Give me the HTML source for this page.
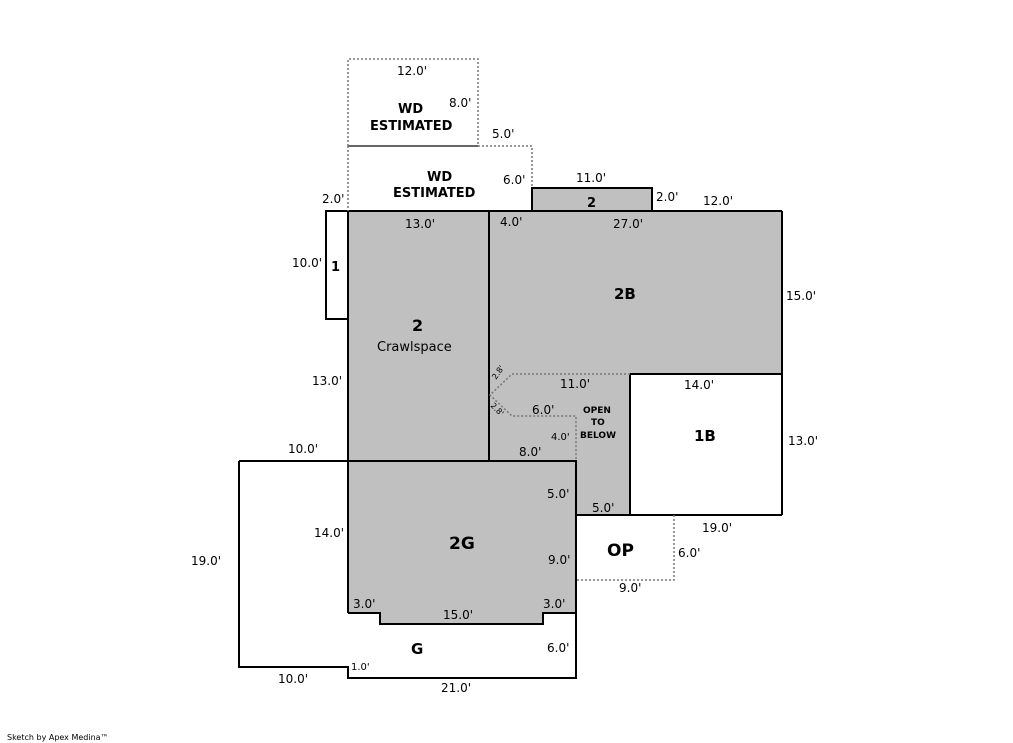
<!DOCTYPE html>
<html><head><meta charset="utf-8"><style>
body{margin:0;background:#fff;}
svg{display:block;}
text{font-family:"DejaVu Sans","Liberation Sans",sans-serif;font-size:12px;fill:#000;}
.b{font-weight:bold;font-size:15px;}
.s{font-size:10px;}
</style></head><body>
<svg width="1013" height="743" viewBox="0 0 1013 743">
<g fill="#c0c0c0" stroke="none">
<rect x="348" y="211" width="434" height="163"/>
<rect x="348" y="374" width="282" height="87"/>
<rect x="576" y="374" width="54" height="141"/>
<polygon points="348,461 576,461 576,613 543,613 543,624 380,624 380,613 348,613"/>
<rect x="532" y="188" width="120" height="23"/>
</g>
<g fill="none" stroke="#000" stroke-width="2">
<rect x="326" y="211" width="22" height="108"/>
<line x1="348" y1="211" x2="782" y2="211"/>
<line x1="782" y1="211" x2="782" y2="515"/>
<line x1="630" y1="374" x2="782" y2="374"/>
<line x1="630" y1="374" x2="630" y2="515"/>
<line x1="576" y1="515" x2="782" y2="515"/>
<line x1="348" y1="211" x2="348" y2="613"/>
<line x1="489" y1="211" x2="489" y2="461"/>
<polyline points="532,211 532,188 652,188 652,211"/>
<polyline points="348,613 380,613 380,624 543,624 543,613 576,613"/>
<polyline points="239,461 576,461 576,678 348,678 348,667 239,667 239,461"/>
</g>
<line x1="348" y1="146" x2="478" y2="146" stroke="#666" stroke-width="2"/>
<g fill="none" stroke="#777" stroke-width="1.5" stroke-dasharray="2,2">
<polyline points="348,146 348,59 478,59 478,146"/>
<polyline points="478,146 532,146 532,188"/>
<line x1="348" y1="146" x2="348" y2="211"/>
<polyline points="630,374 512,374 490,395 512,416 576,416 576,461"/>
<polyline points="674,515 674,580 576,580"/>
</g>
<text x="397" y="75">12.0'</text>
<text x="449" y="107">8.0'</text>
<text x="398" y="113" class="b" style="font-size:13px">WD</text>
<text x="370" y="130" class="b" style="font-size:13px">ESTIMATED</text>
<text x="492" y="138">5.0'</text>
<text x="427" y="181" class="b" style="font-size:13px">WD</text>
<text x="393" y="197" class="b" style="font-size:13px">ESTIMATED</text>
<text x="503" y="184">6.0'</text>
<text x="576" y="182">11.0'</text>
<text x="656" y="201">2.0'</text>
<text x="587" y="207" class="b" style="font-size:13px">2</text>
<text x="703" y="205">12.0'</text>
<text x="322" y="203">2.0'</text>
<text x="405" y="228">13.0'</text>
<text x="500" y="226">4.0'</text>
<text x="613" y="228">27.0'</text>
<text x="292" y="267">10.0'</text>
<text x="331" y="271" class="b" style="font-size:13px">1</text>
<text x="614" y="299" class="b">2B</text>
<text x="786" y="300">15.0'</text>
<text x="412" y="331" class="b" style="font-size:16px">2</text>
<text x="377" y="351" style="font-size:13px">Crawlspace</text>
<text x="312" y="385">13.0'</text>
<text x="560" y="388">11.0'</text>
<text x="684" y="389">14.0'</text>
<text x="532" y="414">6.0'</text>
<text x="583" y="413" class="b" style="font-size:9px">OPEN</text>
<text x="591" y="425" class="b" style="font-size:9px">TO</text>
<text x="580" y="438" class="b" style="font-size:9px">BELOW</text>
<text x="551" y="440" class="s">4.0'</text>
<text x="694" y="441" class="b">1B</text>
<text x="788" y="445">13.0'</text>
<text x="288" y="453">10.0'</text>
<text x="519" y="456">8.0'</text>
<text x="547" y="498">5.0'</text>
<text x="592" y="512">5.0'</text>
<text x="314" y="537">14.0'</text>
<text x="702" y="532">19.0'</text>
<text x="449" y="549" class="b" style="font-size:17px">2G</text>
<text x="607" y="556" class="b" style="font-size:17px">OP</text>
<text x="678" y="557">6.0'</text>
<text x="191" y="565">19.0'</text>
<text x="548" y="564">9.0'</text>
<text x="619" y="592">9.0'</text>
<text x="353" y="608">3.0'</text>
<text x="543" y="608">3.0'</text>
<text x="443" y="619">15.0'</text>
<text x="411" y="654" class="b">G</text>
<text x="547" y="652">6.0'</text>
<text x="351" y="670" class="s">1.0'</text>
<text x="278" y="683">10.0'</text>
<text x="441" y="692">21.0'</text>
<text transform="translate(496,380) rotate(-55)" style="font-size:8px">2.8'</text>
<text transform="translate(490,406) rotate(45)" style="font-size:8px">2.8'</text>
<text x="7" y="740" style="font-size:8px">Sketch by Apex Medina™</text>
</svg>
</body></html>
